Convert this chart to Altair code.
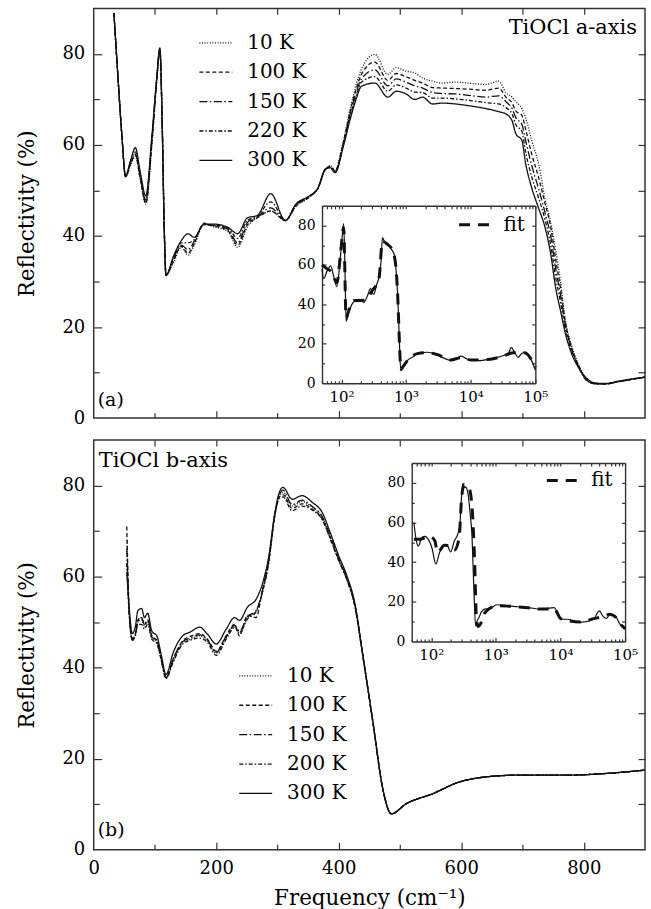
import altair as alt
import pandas as pd

FONT = "DejaVu Serif, serif"
INK = "#111111"
FRAME = "#333333"
W, H = 553, 411

# ---------------- panel (a): TiOCl a-axis ----------------
TEMPS_A = ["10 K", "100 K", "150 K", "220 K", "300 K"]
FA = [33, 40, 46, 52, 60, 68, 76, 85, 95, 103,
      108, 112, 115, 118, 130, 143, 154, 164, 180, 197,
      219, 235, 251, 267, 289, 313, 330, 352, 366, 378,
      386, 394, 407, 418, 429, 437, 459, 480, 494, 510,
      524, 537, 553, 569, 591, 618, 640, 661, 673, 683,
      689, 699, 705, 715, 726, 737, 746, 754, 762, 770,
      780, 791, 803, 816, 835, 856, 878, 900]
A10 = [89, 74, 62, 53, 55.5, 57.5, 52.5, 47, 60, 74,
       80.5, 64, 43, 31.5, 34, 37.5, 35.8, 38, 42.5, 42,
       41, 37.5, 42, 44, 45.5, 43.4, 46.5, 48.5, 50.5, 54.5,
       55.5, 54.5, 60.5, 67.5, 73.5, 76.6, 79.9, 75.5, 77, 76.2,
       75.8, 74.7, 74, 73.6, 73.8, 73.5, 73.3, 74, 71.5, 70.5,
       69.5, 68, 66, 61, 56, 48, 43, 37, 30, 21.5,
       16, 11.9, 8.8, 7.6, 7.5, 8, 8.5, 9]
A100 = [89, 74, 62, 53, 55.8, 57.8, 52.5, 47.2, 60.5, 74.5,
        80.8, 64, 43, 31.5, 34.5, 37.8, 36.2, 38.3, 42.8, 42.2,
        41.2, 38, 42.5, 44, 45.5, 43.4, 46.6, 48.6, 50.5, 54.6,
        55.3, 54.3, 60.2, 67, 72.5, 75.5, 78.2, 74.2, 75.7, 75,
        74.2, 73.6, 72.6, 72.5, 72.4, 72.2, 72, 72.5, 70.5, 69.2,
        67.5, 66.5, 63.5, 58, 53, 47, 42, 35, 28.5, 21,
        15.5, 11.7, 8.7, 7.6, 7.5, 8, 8.5, 9]
A150 = [89, 74, 62, 53.1, 56, 58, 53, 47.5, 61, 74.5,
        81, 63.5, 42.5, 31.4, 35, 38, 37, 38.8, 42.5, 42.3,
        41.5, 38.5, 43, 44.2, 46.2, 43.4, 46.8, 48.7, 50.5, 54.6,
        55.2, 54, 60, 66.5, 71.8, 74.5, 76.5, 73, 74.5, 73.8,
        73, 72.5, 71.5, 71.3, 71.2, 70.8, 70.5, 70.8, 69.5, 68,
        66, 64.5, 61, 55.5, 50.5, 45, 40, 33, 27, 20.5,
        15.2, 11.5, 8.6, 7.6, 7.5, 8, 8.5, 9]
A220 = [89, 74, 62, 53.1, 56.2, 58.5, 53.5, 48, 61.5, 74.8,
        81.2, 63.3, 42.3, 31.3, 35.2, 38.5, 38.5, 39.2, 42.5, 42.4,
        41.7, 39.5, 43.5, 44.3, 47.5, 43.4, 46.9, 48.7, 50.5, 54.6,
        55.1, 54, 59.7, 66, 71, 73.8, 75, 71.8, 73.2, 72.5,
        71.6, 71.5, 70.3, 70.3, 70.1, 69.7, 69.3, 69, 68.2, 66.8,
        64.5, 63, 58.5, 53, 48.5, 43.5, 38, 31, 25.5, 19.5,
        14.7, 11.3, 8.5, 7.6, 7.5, 8, 8.5, 9]
A300 = [89, 74, 62, 53.2, 56.5, 59.4, 54, 48.8, 62, 75,
        81.3, 63, 42, 31.3, 35.5, 39, 40.5, 39.7, 42.6, 42.6,
        41.9, 40.5, 44, 44.5, 49.3, 43.4, 47, 48.8, 50.5, 54.7,
        55, 53.9, 59.4, 65.3, 70.3, 72.9, 73.6, 70.5, 71.8, 71.2,
        70, 70.5, 69, 69.2, 69, 68.5, 68, 67.3, 66.8, 65.3,
        62.5, 61, 56, 50.6, 46.2, 41.8, 36.1, 28.7, 23.6, 18.6,
        14.2, 11.2, 9.0, 7.8, 7.6, 8.1, 8.6, 9.0]

# inset (a): broadband reflectivity (log frequency) and fit
FIA = [50, 53, 60, 68, 76, 85, 95, 103, 108, 113,
       118, 130, 145, 165, 190, 222, 250, 282, 315, 350,
       380, 410, 430, 460, 513, 560, 614, 660, 700, 740,
       780, 826, 900, 1050, 1300, 1500, 2150, 3070, 4000, 4930,
       6000, 7100, 8500, 10100, 14000, 18300, 25000, 33000, 38000, 42400,
       48000, 54000, 61000, 68500, 78000, 87000, 100000]
IA = [58, 53, 57, 59.5, 54, 49, 62, 75, 81, 60,
      31.5, 36, 40, 42, 42.5, 41, 44, 48, 45, 50,
      53.6, 62, 73.8, 72, 70.8, 69, 67.2, 65, 57, 45,
      25.3, 6.6, 8.5, 11.6, 13.5, 15.2, 15.7, 14.2, 12.5, 11.6,
      12.5, 13.7, 12.5, 11.6, 11.5, 12.1, 13, 14.2, 15, 18.2,
      15.5, 13.1, 15, 15.7, 14, 11.6, 6.6]
FFA = [50, 60, 70, 85, 97, 108, 118, 130, 160, 200,
       250, 300, 380, 430, 513, 614, 690, 740, 790, 830,
       900, 1050, 1500, 2150, 3070, 4930, 7100, 10100, 18300, 33000,
       45000, 68500, 87000, 100000]
FITA = [60, 58, 56.5, 51, 66, 79, 33, 37, 42, 42,
        43, 47, 53, 72, 70.5, 67.5, 60, 45, 20, 7,
        8.5, 11.5, 15, 15.5, 14.5, 11.8, 13, 11.8, 12, 14,
        15.5, 15.5, 12, 8]

# ---------------- panel (b): TiOCl b-axis ----------------
TEMPS_B = ["10 K", "100 K", "150 K", "200 K", "300 K"]
FB = [54, 58, 63, 68, 72, 78, 83, 88, 95, 103,
      110, 118, 130, 146, 157, 173, 186, 200, 216, 230,
      238, 251, 265, 276, 286, 295, 303, 309, 324, 340,
      357, 373, 386, 400, 413, 427, 438, 456, 472, 486,
      510, 553, 597, 640, 694, 775, 829, 900]
B10 = [68, 52, 46, 47, 50, 50.5, 49, 50, 46.5, 45.5,
       42, 37.8, 41.5, 45.5, 46.2, 47, 45.8, 43.2, 46.5, 49,
       47.5, 51, 52.5, 57, 63.5, 73, 77.8, 78.5, 75.5, 76.5,
       75.2, 73, 68.8, 63.8, 59.6, 53.2, 43.8, 27.8, 13.3, 7.9,
       10.1, 12.3, 14.9, 16, 16.4, 16.4, 16.7, 17.5]
B100 = [71, 52.5, 46.5, 47.5, 50.5, 51, 49.5, 50.5, 47, 46,
        42.2, 37.9, 42, 46, 46.8, 47.5, 46.2, 43.6, 47, 49.5,
        47, 51.5, 51, 57.5, 63.8, 73.2, 77.5, 78, 75, 76,
        74.8, 72.7, 68.5, 63.6, 59.5, 53.2, 43.8, 27.8, 13.3, 7.9,
        10.1, 12.3, 14.9, 16, 16.4, 16.4, 16.7, 17.5]
B150 = [66, 52, 46, 47, 50, 51, 49.5, 50.5, 46.8, 45.8,
        42, 37.8, 42, 45.8, 46.5, 47.2, 46, 43.4, 46.8, 49.3,
        48, 51.2, 52.5, 57.2, 63.7, 73, 77.8, 79, 75.8, 76.8,
        75.4, 73.2, 69, 64, 59.8, 53.4, 44, 27.8, 13.3, 7.9,
        10.1, 12.3, 14.9, 16, 16.4, 16.4, 16.7, 17.5]
B200 = [63, 51.5, 46.2, 47.2, 49.5, 49.5, 48.5, 49.5, 46.2, 45.3,
        41.8, 37.6, 41.3, 45.3, 46, 46.5, 45.5, 42.7, 46.2, 48.8,
        47.8, 50.7, 52.2, 56.8, 63.3, 72.8, 77.2, 77.5, 74.5, 75.5,
        74.6, 72.5, 68.3, 63.5, 59.4, 53, 43.6, 27.7, 13.3, 7.9,
        10.1, 12.3, 14.9, 16, 16.4, 16.4, 16.7, 17.5]
B300 = [61, 53, 47.5, 49, 52.5, 53, 51, 52, 48, 47,
        43, 38.5, 43.4, 47.1, 47.8, 48.9, 47.3, 45.2, 48.4, 51,
        50.4, 53.3, 55, 58.7, 64.6, 73.4, 78.5, 79.6, 77, 77.8,
        76.3, 74.1, 69.7, 64.6, 60.3, 53.7, 44, 28, 13.4, 7.9,
        10.1, 12.3, 14.9, 16, 16.4, 16.4, 16.7, 17.5]

FIB = [54, 58, 63, 72, 80, 88, 103, 118, 135, 160,
       173, 200, 230, 250, 276, 295, 309, 324, 340, 373,
       400, 427, 456, 486, 510, 553, 597, 700, 773, 1040,
       1560, 2200, 3150, 5000, 8000, 10100, 12800, 20500, 32600, 40000,
       46000, 52000, 58000, 70000, 83000, 100000]
IB = [60, 52, 48, 52.5, 53, 52, 47, 39, 45, 48.5,
      49, 45.2, 51, 53, 58, 73, 79.6, 77.5, 78, 74,
      64.6, 53.7, 28, 7.9, 10.1, 12.3, 14.9, 16.4, 16.3, 18.5,
      17.9, 17.5, 17.1, 16.3, 17.1, 11.2, 11.2, 9.6, 11.2, 15.4,
      12.5, 11.6, 13.7, 13, 8.7, 6.2]
FFB = [54, 66, 94, 113, 126, 160, 202, 227, 270, 295,
       322, 384, 431, 470, 500, 530, 578, 620, 700, 1040,
       1560, 3150, 5000, 8000, 10100, 20500, 32600, 45000, 58000, 70000,
       83000, 100000]
FITB = [51.5, 51.5, 53, 51, 45, 48.5, 48, 46, 52, 72,
        79.2, 77.5, 66.6, 40, 12, 7.5, 8.7, 12, 15, 18,
        17.8, 17, 16.3, 16.5, 11.5, 9.8, 11.5, 12.5, 13.7, 12.5,
        9, 6.5]

DASHES = [[1, 1.6], [4, 2.5], [8, 2.5, 1.5, 2.5], [4, 2, 1.5, 2], [1, 0]]


def long_df(freq, names, series):
    rows = []
    for name, vals in zip(names, series):
        for f, v in zip(freq, vals):
            rows.append({"f": f, "R": v, "T": name})
    return pd.DataFrame(rows)


def tick_axis(orient, values, size, offset=None, domain=False):
    kw = dict(orient=orient, values=values, labels=False, ticks=True, domain=domain,
              grid=False, tickSize=alt.ExprRef(expr=str(-size)), tickColor=FRAME,
              tickWidth=1.2, domainColor=FRAME, domainWidth=1.4, title=None)
    if offset is not None:
        kw["offset"] = offset
    return alt.Axis(**kw)


MAJ_LOG = [100, 1000, 10000, 100000]
MIN_LOG = [m * d for d in (10, 100, 1000, 10000) for m in range(2, 10)
           if 50 <= m * d <= 100000 and m * d not in MAJ_LOG]
LOG_LABEL = ("datum.value == 100 ? '10²' : datum.value == 1000 ? '10³' : "
             "datum.value == 10000 ? '10⁴' : '10⁵'")


def text_layer(txt, x, y, align, size):
    return alt.Chart(pd.DataFrame({"t": [txt]})).mark_text(
        align=align, baseline="alphabetic", font=FONT, fontSize=size, color="black"
    ).encode(text="t:N", x=alt.value(x), y=alt.value(y))


def panel(lines_df, temps, leg_xy, box, inset_df, fit_df, fit_xy, title_txt, title_xy,
          title_align, tag, tag_xy, x_labels):
    xs = alt.Scale(domain=[0, 900], nice=False, zero=False)
    ys = alt.Scale(domain=[0, 90], nice=False)
    x0, x1, y0, y1 = box
    ixs = alt.Scale(type="log", domain=[50, 100000], range=[x0, x1], nice=False)
    iys = alt.Scale(domain=[0, 90], range=[y1, y0], nice=False, zero=False)

    frame_main = pd.DataFrame({"f": [0, 900], "R": [0, 90]})
    frame_in = pd.DataFrame({"f": [50, 100000], "R": [0, 90]})

    if x_labels:
        x_axis = alt.Axis(orient="bottom", values=[0, 200, 400, 600, 800], ticks=False,
                          domain=False, grid=False, labelFlush=False, labelPadding=10,
                          labelFont=FONT, titleFont=FONT, titleFontSize=21.5,
                          title="Frequency (cm⁻¹)", titlePadding=10)
    else:
        x_axis = None
    y_axis = alt.Axis(orient="left", values=[0, 20, 40, 60, 80], ticks=False, domain=False,
                      grid=False, labelPadding=9, labelFont=FONT, titleFont=FONT,
                      titleFontSize=21.5, title="Reflectivity (%)", titlePadding=23)

    def frame(df, sx, sy, xa, ya):
        return alt.Chart(df).mark_point(opacity=0, size=0, strokeWidth=0).encode(
            x=alt.X("f:Q", scale=sx, axis=xa), y=alt.Y("R:Q", scale=sy, axis=ya))

    layers = []
    # main frame ticks (inward)
    layers.append(frame(frame_main, xs, ys,
                        tick_axis("bottom", [200, 400, 600, 800], 7.5),
                        tick_axis("left", [20, 40, 60, 80], 8)))
    layers.append(frame(frame_main, xs, ys,
                        tick_axis("bottom", [100, 300, 500, 700], 5.5),
                        tick_axis("left", [10, 30, 50, 70], 5.5)))
    layers.append(frame(frame_main, xs, ys,
                        tick_axis("top", list(range(100, 900, 100)), 6),
                        tick_axis("right", list(range(10, 90, 10)), 7)))
    # main curves
    layers.append(alt.Chart(lines_df).mark_line(
        strokeWidth=1.3, color=INK, interpolate="monotone", clip=True
    ).encode(
        x=alt.X("f:Q", scale=xs, axis=x_axis),
        y=alt.Y("R:Q", scale=ys, axis=y_axis),
        strokeDash=alt.StrokeDash(
            "T:N", sort=temps, scale=alt.Scale(domain=temps, range=DASHES),
            legend=alt.Legend(orient="none", legendX=leg_xy[0], legendY=leg_xy[1], title=None,
                              symbolType="stroke", symbolSize=1089, symbolStrokeWidth=1.3,
                              labelFont=FONT, labelFontSize=20, labelColor="black",
                              labelOffset=14, rowPadding=1.5, padding=0)),
    ))
    # inset axes
    off_b = y1 - H
    off_t = -y0
    off_l = -x0
    off_r = x1 - W
    layers.append(frame(frame_in, ixs, iys,
                        tick_axis("bottom", MAJ_LOG, 4, off_b, True),
                        tick_axis("left", [20, 40, 60, 80], 4, off_l, True)))
    layers.append(frame(frame_in, ixs, iys,
                        tick_axis("bottom", MIN_LOG, 2.5, off_b),
                        tick_axis("left", [10, 30, 50, 70], 2.5, off_l)))
    layers.append(frame(frame_in, ixs, iys,
                        tick_axis("top", MAJ_LOG + MIN_LOG, 3, off_t, True),
                        tick_axis("right", list(range(10, 90, 10)), 3.5, off_r, True)))
    # inset data
    layers.append(alt.Chart(inset_df).mark_line(
        strokeWidth=1.2, color=INK, interpolate="monotone"
    ).encode(
        x=alt.X("f:Q", scale=ixs, axis=alt.Axis(
            orient="bottom", offset=off_b, values=MAJ_LOG, ticks=False, domain=False, grid=False,
            labelExpr=LOG_LABEL, labelFlush=False, labelOverlap=False, labelFontSize=15,
            labelFont=FONT, labelPadding=6, title=None)),
        y=alt.Y("R:Q", scale=iys, axis=alt.Axis(
            orient="left", offset=off_l, values=[0, 20, 40, 60, 80], ticks=False, domain=False,
            grid=False, labelFontSize=14, labelFont=FONT, labelPadding=7, title=None)),
    ))
    # fit
    layers.append(alt.Chart(fit_df).mark_line(
        strokeWidth=3, color=INK, interpolate="monotone"
    ).encode(
        x=alt.X("f:Q", scale=ixs, axis=None),
        y=alt.Y("R:Q", scale=iys, axis=None),
        strokeDash=alt.StrokeDash(
            "L:N", scale=alt.Scale(domain=["fit"], range=[[11, 8]]),
            legend=alt.Legend(orient="none", legendX=fit_xy[0], legendY=fit_xy[1], title=None,
                              symbolType="stroke", symbolSize=1089, symbolStrokeWidth=3,
                              labelFont=FONT, labelFontSize=20, labelColor="black",
                              labelOffset=10, padding=0)),
    ))
    layers.append(text_layer(title_txt, title_xy[0], title_xy[1], title_align, 21))
    layers.append(text_layer(tag, tag_xy[0], tag_xy[1], "left", 19))

    return alt.layer(*layers).resolve_scale(
        x="independent", y="independent", strokeDash="independent"
    ).properties(width=W, height=H)


df_a = long_df(FA, TEMPS_A, [A10, A100, A150, A220, A300])
df_b = long_df(FB, TEMPS_B, [B10, B100, B150, B200, B300])
ins_a = pd.DataFrame({"f": FIA, "R": IA})
ins_b = pd.DataFrame({"f": FIB, "R": IB})
fit_a = pd.DataFrame({"f": FFA, "R": FITA, "L": "fit"})
fit_b = pd.DataFrame({"f": FFB, "R": FITB, "L": "fit"})

pa = panel(df_a, TEMPS_A, (105, 17), (229, 443, 198, 376), ins_a, fit_a, (365, 199),
           "TiOCl a-axis", (545, 26), "right", "(a)", (4, 399), False)
pb = panel(df_b, TEMPS_B, (145, 219), (319, 533, 23, 202), ins_b, fit_b, (453, 22.5),
           "TiOCl b-axis", (5, 27), "left", "(b)", (4, 397), True)

chart = alt.vconcat(pa, pb, spacing=10).resolve_scale(
    strokeDash="independent"
).properties(
    padding={"left": 16, "top": 5, "right": 4, "bottom": 4}
).configure(
    font=FONT
).configure_view(
    stroke=FRAME, strokeWidth=1.5
).configure_axis(
    labelFont=FONT, labelFontSize=18, labelColor="black",
    titleFont=FONT, titleFontSize=21.5, titleFontWeight="normal", titleColor="black"
).configure_legend(
    labelFont=FONT
)

chart.save("out.html", embed_options={"renderer": "svg", "actions": False})
